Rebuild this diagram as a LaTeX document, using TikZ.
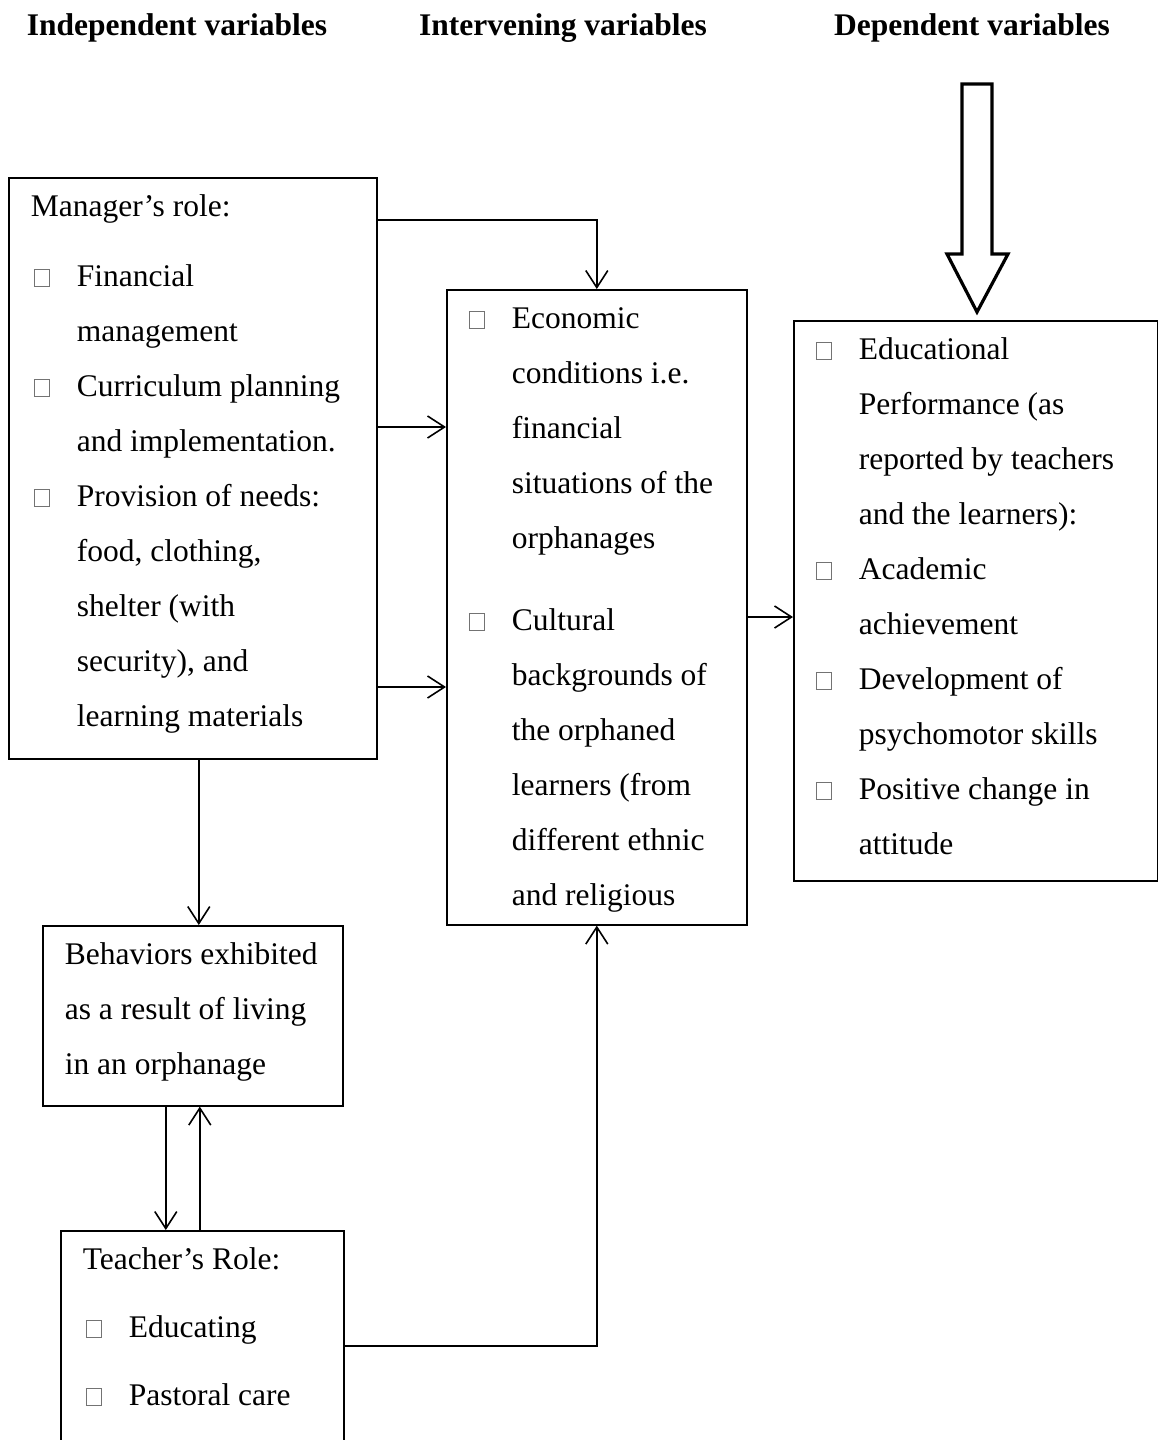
\documentclass[tikz,border=0pt]{standalone}
\usepackage{fontspec}
\setmainfont{Liberation Serif}
\usepackage{tikz}
\usetikzlibrary{arrows.meta}

\newcommand\bx{\makebox[46pt][l]{\hspace*{3pt}{\color{black!55}\setlength\fboxsep{0pt}\setlength\fboxrule{0.9pt}\fbox{\rule{0pt}{16.5pt}\rule{14.5pt}{0pt}}}}}
\newcommand\ind{\hspace*{46pt}}
\newcommand\boxtext[3]{\parbox[t][#1][t]{#2}{\raggedright\strut #3}}

\tikzset{
  varbox/.style={draw, line width=1.6pt, inner xsep=22pt, inner ysep=0pt, anchor=north west, font=\fontsize{31.5}{55}\selectfont},
  colhead/.style={font=\fontsize{31.5}{38}\selectfont\bfseries, anchor=base},
  arr/.style={line width=1.6pt, -{Straight Barb[length=17pt,width=22pt]}},
}

\begin{document}
\begin{tikzpicture}[x=1pt,y=-1pt]
	%%%%% START %%%%%
	\useasboundingbox (0,0) rectangle (1158,1440);
	
	\node[colhead] (hind) at (177,35) {Independent variables};
	\node[colhead] (hint) at (563,35) {Intervening variables};
	\node[colhead] (hdep) at (972,35) {Dependent variables};
	
	% hollow arrow into the dependent variables
	\draw[line width=3.2pt, line join=miter] (962,84) -- (992,84) -- (992,254) -- (1008,254) -- (977,312) -- (947,254) -- (962,254) -- cycle;
	
	\node[varbox] (mgr) at (8,177) {\boxtext{581pt}{324pt}{Manager’s role:\\[15pt]
		\bx Financial\\ \ind management\\
		\bx Curriculum planning\\ \ind and implementation.\\
		\bx Provision of needs:\\ \ind food, clothing,\\ \ind shelter (with\\ \ind security), and\\ \ind learning materials}};
	
	\node[varbox, inner xsep=19pt] (intv) at (446,289) {\boxtext{635pt}{262pt}{\bx Economic\\ \ind conditions i.e.\\ \ind financial\\ \ind situations of the\\ \ind orphanages\\[27pt]
		\bx Cultural\\ \ind backgrounds of\\ \ind the orphaned\\ \ind learners (from\\ \ind different ethnic\\ \ind and religious}};
	
	\node[varbox, inner xsep=19pt] (dep) at (793,320) {\boxtext{560pt}{326pt}{\bx Educational\\ \ind Performance (as\\ \ind reported by teachers\\ \ind and the learners):\\
		\bx Academic\\ \ind achievement\\
		\bx Development of\\ \ind psychomotor skills\\
		\bx Positive change in\\ \ind attitude}};
	
	\node[varbox] (beh) at (42,925) {\boxtext{180pt}{256pt}{Behaviors exhibited\\ as a result of living\\ in an orphanage}};
	
	\node[varbox] (teach) at (60,1230) {\boxtext{230pt}{239pt}{Teacher’s Role:\\[13pt] \bx Educating\\[13pt] \bx Pastoral care}};
	
	% connectors
	\coordinate (m1) at ([yshift=-250pt]mgr.north east);
	\coordinate (m2) at ([yshift=-510pt]mgr.north east);
	\coordinate (i1) at ([yshift=-328pt]intv.north east);
	\coordinate (t1) at ([yshift=-116pt]teach.north east);
	\coordinate (b1) at ([xshift=-27pt]beh.south);
	\coordinate (b2) at ([xshift=7pt]beh.south);
	
	\draw[arr] ([yshift=-43pt]mgr.north east) -| (intv.north);
	\draw[arr] (m1) -- (m1 -| intv.west);
	\draw[arr] (m2) -- (m2 -| intv.west);
	\draw[arr] (i1) -- (i1 -| dep.west);
	\draw[arr] ([xshift=6pt]mgr.south) -- ([xshift=6pt]beh.north);
	\draw[arr] (b1) -- (b1 |- teach.north);
	\draw[arr] (b2 |- teach.north) -- (b2);
	\draw[arr] (t1) -| (intv.south);
	%%%%% END %%%%%
\end{tikzpicture}
\end{document}
